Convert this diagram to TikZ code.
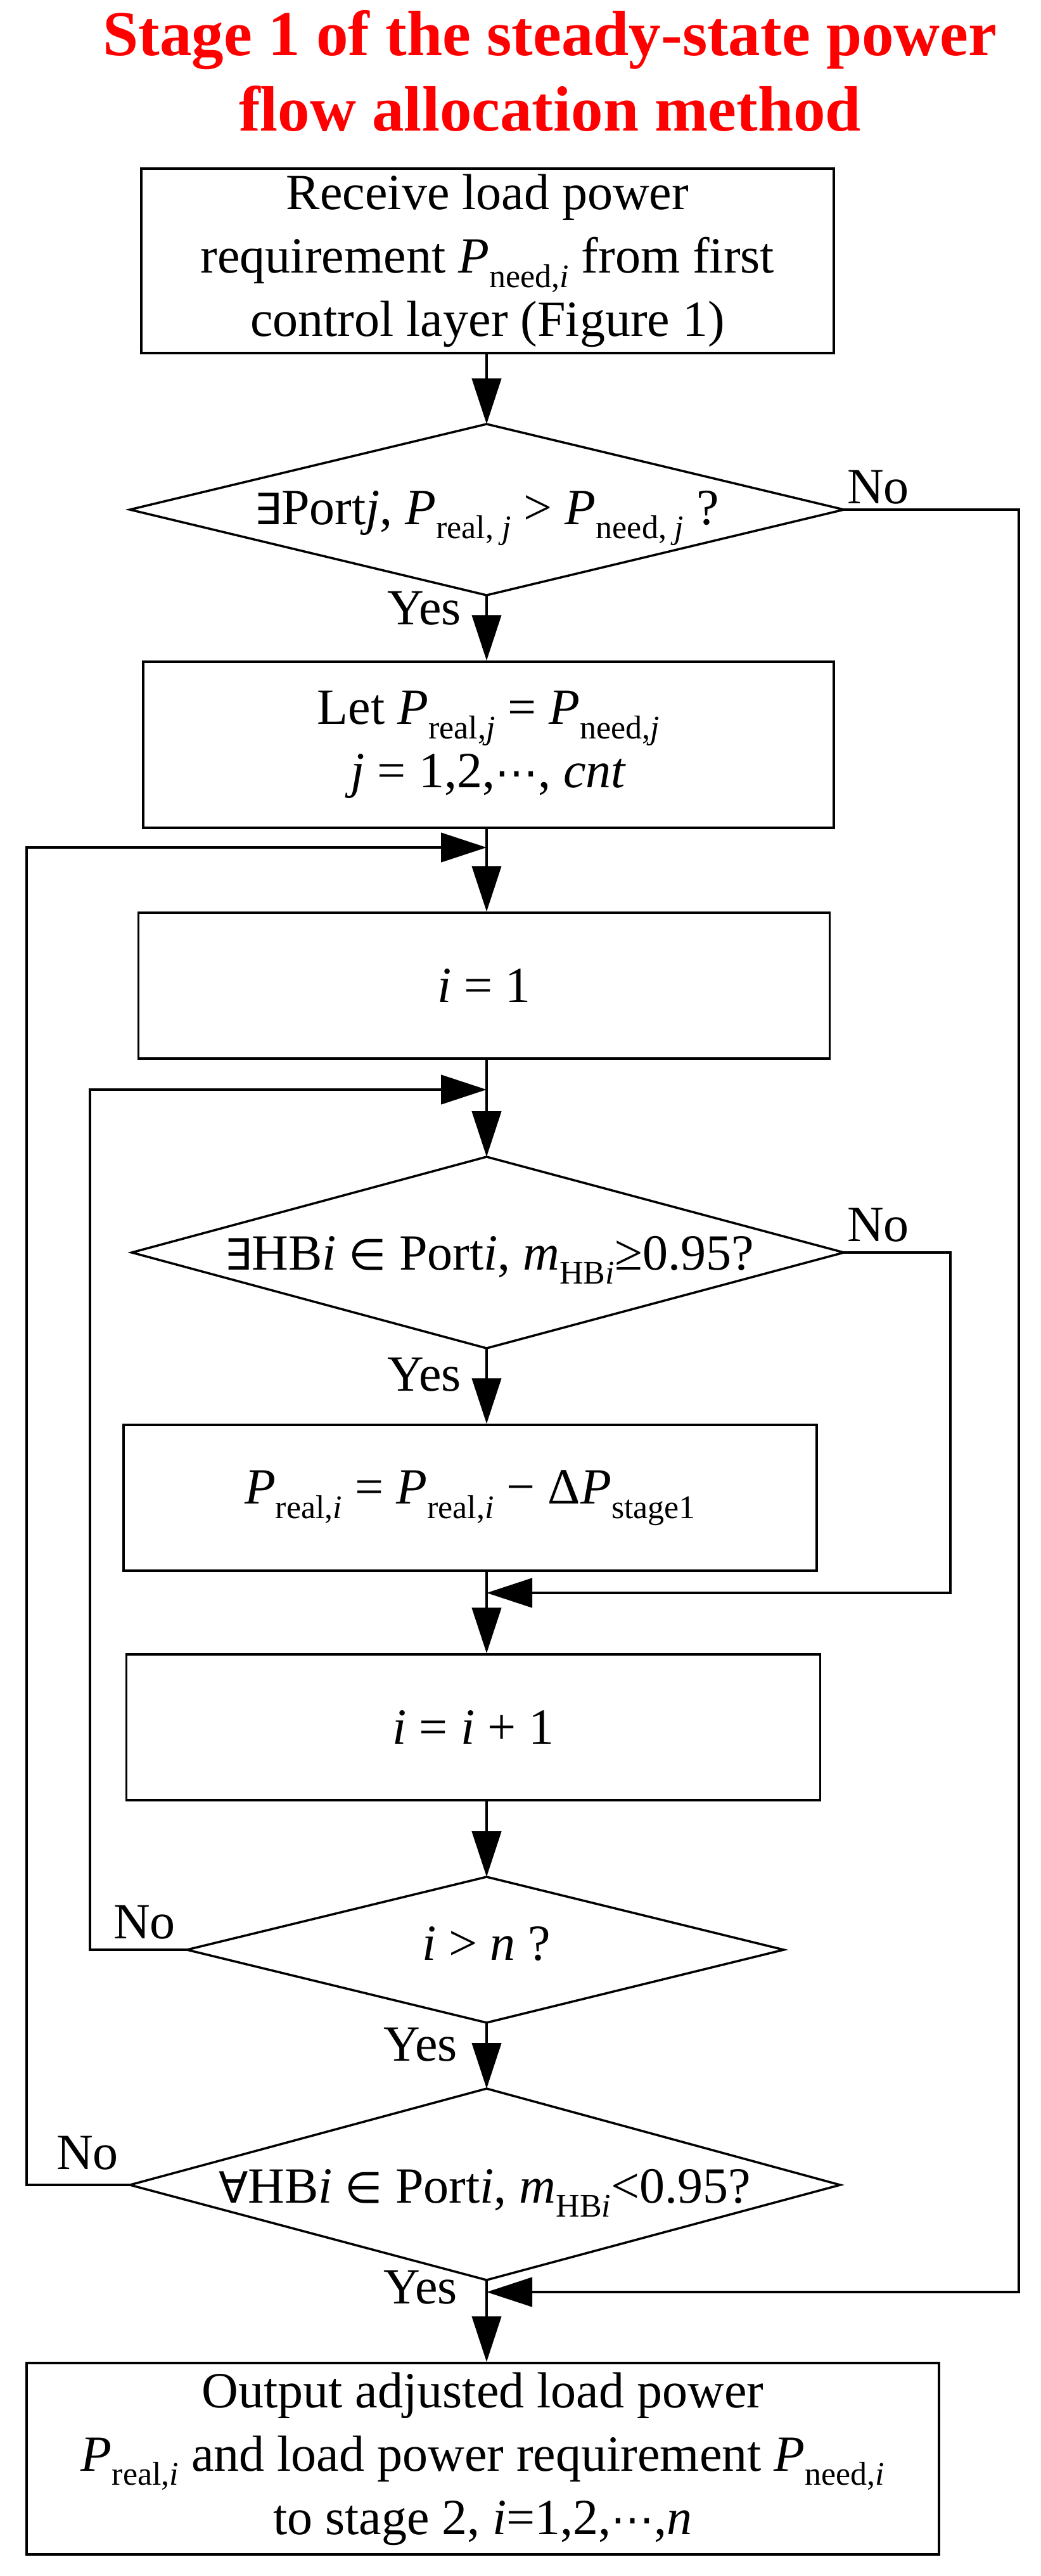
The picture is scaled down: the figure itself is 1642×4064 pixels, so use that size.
\documentclass[tikz,border=0pt]{standalone}
\usepackage{fontspec}
\setmainfont{Liberation Serif}
\newfontfamily\symf{DejaVu Sans}
\usetikzlibrary{arrows.meta,calc}
\newcommand{\mysub}[1]{\raisebox{-0.28em}{\fontsize{52}{52}\selectfont #1}}
\newcommand{\PP}[1]{\textit{P}\mysub{#1}}
\newcommand{\sy}[1]{{\symf\fontsize{68}{68}\selectfont #1}}
\begin{document}
\begin{tikzpicture}[x=1pt,y=-1pt,
  every node/.style={font=\fontsize{80}{100}\selectfont, inner sep=0pt},
  box/.style={draw, line width=3.5pt, rectangle, align=center},
  dia/.style={draw, line width=3.5pt},
  conn/.style={line width=4.5pt},
  arr/.style={conn, -{Triangle[length=72pt,width=46pt]}},
  lbl/.style={font=\fontsize{80}{80}\selectfont},
  title/.style={font=\fontsize{101}{101}\selectfont\bfseries, text=red}]
\useasboundingbox (0,0) rectangle (1642,4064);
% title
\node[title, anchor=base] (t1) at (868,87) {Stage 1 of the steady-state power};
\node[title, anchor=base] (t2) at (868,206) {flow allocation method};
% main column
\coordinate (c) at (768,0);
% boxes
\node[box, minimum width=1093, minimum height=291] (b1) at (769.5,411.5) {Receive load power\\requirement \PP{need,\textit{i}} from first\\control layer (Figure 1)};
\node[box, minimum width=1090, minimum height=262] (b2) at (771,1175) {Let \PP{real,\textit{j}} = \PP{need,\textit{j}}\\\textit{j} = 1,2,\sy{⋯}, \textit{cnt}};
\node[box, minimum width=1091, minimum height=230] (b3) at (764,1555) {\textit{i} = 1};
\node[box, minimum width=1094, minimum height=230] (b4) at (742,2363) {\PP{real,\textit{i}} = \PP{real,\textit{i}} − Δ\PP{stage1}};
\node[box, minimum width=1095, minimum height=230] (b5) at (747,2725) {\textit{i} = \textit{i} + 1};
\node[box, minimum width=1440, minimum height=302] (b6) at (762,3879) {Output adjusted load power\\\PP{real,\textit{i}} and load power requirement \PP{need,\textit{i}}\\to stage 2, \textit{i}=1,2,\sy{⋯},\textit{n}};
% diamonds
\coordinate (d1t) at (768,669); \coordinate (d1b) at (768,939);
\coordinate (d1l) at (205,804); \coordinate (d1r) at (1332,804);
\coordinate (d2t) at (768,1825); \coordinate (d2b) at (768,2127);
\coordinate (d2l) at (208,1976); \coordinate (d2r) at (1332,1976);
\coordinate (d3t) at (768,2961); \coordinate (d3b) at (768,3191);
\coordinate (d3l) at (295,3076); \coordinate (d3r) at (1237,3076);
\coordinate (d4t) at (768,3295); \coordinate (d4b) at (768,3597);
\coordinate (d4l) at (205,3447); \coordinate (d4r) at (1326,3447);
\draw[dia] (d1t) -- (d1r) -- (d1b) -- (d1l) -- cycle;
\draw[dia] (d2t) -- (d2r) -- (d2b) -- (d2l) -- cycle;
\draw[dia] (d3t) -- (d3r) -- (d3b) -- (d3l) -- cycle;
\draw[dia] (d4t) -- (d4r) -- (d4b) -- (d4l) -- cycle;
\node[anchor=base] (q1) at (768,827) {\sy{∃}Port\textit{j}, \PP{real, \textit{j}} > \PP{need, \textit{j}} ?};
\node[anchor=base] (q2) at (772,2003) {\sy{∃}HB\textit{i} \sy{∈} Port\textit{i}, \textit{m}\mysub{HB\textit{i}}≥0.95?};
\node[anchor=base] (q3) at (768,3092) {\textit{i} > \textit{n} ?};
\node[anchor=base] (q4) at (765,3475) {\sy{∀}HB\textit{i} \sy{∈} Port\textit{i}, \textit{m}\mysub{HB\textit{i}}<0.95?};
% junction coordinates
\coordinate (j1) at (768,1337);
\coordinate (j2) at (768,1719);
\coordinate (j3) at (768,2513);
\coordinate (j4) at (768,3616);
\coordinate (o1) at (42,1337); \coordinate (o2) at (42,3447);
\coordinate (i1) at (142,1719); \coordinate (i2) at (142,3076);
\coordinate (r1) at (1608,804); \coordinate (r2) at (1608,3616);
\coordinate (s1) at (1500,1976); \coordinate (s2) at (1500,2513);
% connectors
\draw[arr] (b1.south -| c) -- (d1t);
\draw[arr] (d1b) -- (b2.north -| c);
\draw[conn] (b2.south -| c) -- (j1);
\draw[arr] (j1) -- (b3.north -| c);
\draw[conn] (b3.south -| c) -- (j2);
\draw[arr] (j2) -- (d2t);
\draw[arr] (d2b) -- (b4.north -| c);
\draw[conn] (b4.south -| c) -- (j3);
\draw[arr] (j3) -- (b5.north -| c);
\draw[arr] (b5.south -| c) -- (d3t);
\draw[arr] (d3b) -- (d4t);
\draw[conn] (d4b) -- (j4);
\draw[arr] (j4) -- (b6.north -| c);
\draw[arr] (d4l) -- (o2) -- (o1) -- (j1);
\draw[arr] (d3l) -- (i2) -- (i1) -- (j2);
\draw[arr] (d2r) -- (s1) -- (s2) -- (j3);
\draw[arr] (d1r) -- (r1) -- (r2) -- (j4);
% labels
\node[lbl, anchor=base east] (y1) at (728,985) {Yes};
\node[lbl, anchor=base east] (y2) at (728,2194) {Yes};
\node[lbl, anchor=base east] (y3) at (722,3251) {Yes};
\node[lbl, anchor=base east] (y4) at (722,3634) {Yes};
\node[lbl, anchor=base west] (n1) at (1337,794) {No};
\node[lbl, anchor=base west] (n2) at (1337,1958) {No};
\node[lbl, anchor=base west] (n3) at (179,3058) {No};
\node[lbl, anchor=base west] (n4) at (89,3422) {No};
\end{tikzpicture}
\end{document}
